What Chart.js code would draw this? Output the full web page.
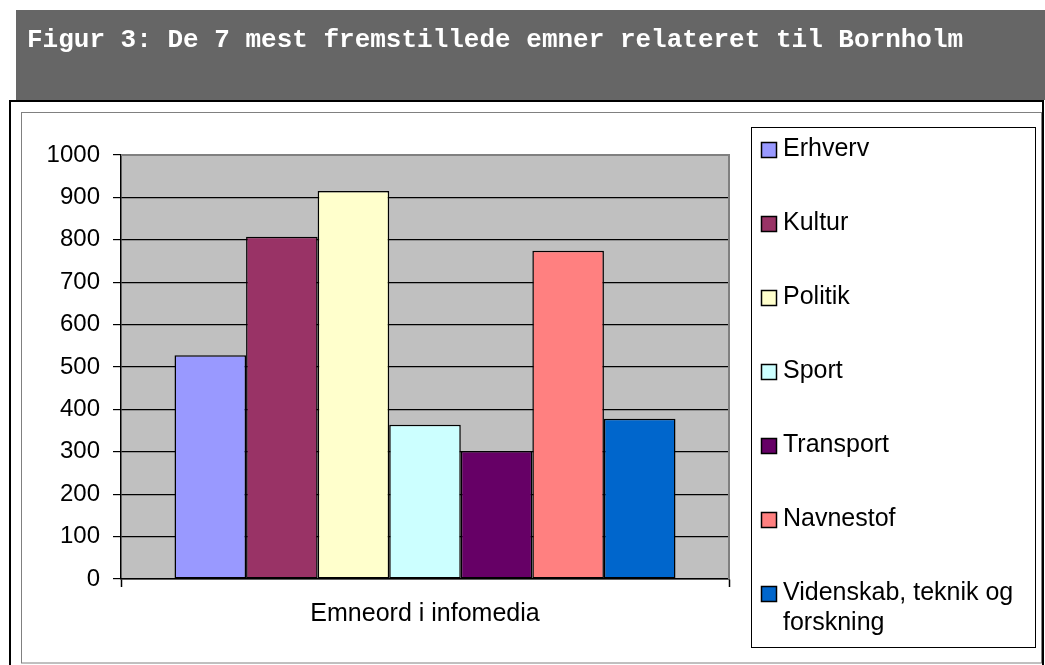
<!DOCTYPE html>
<html>
<head>
<meta charset="utf-8">
<script src="https://cdn.jsdelivr.net/npm/chart.js@4/dist/chart.umd.min.js"></script>
<style>
  html, body { margin: 0; padding: 0; background: #fff; }
  #wrap { width: 1045px; height: 665px; position: relative; }
</style>
</head>
<body>
<div id="wrap"><canvas id="chart" width="1045" height="665"></canvas></div>
<script>
// Data
const figureTitle = 'Figur 3: De 7 mest fremstillede emner relateret til Bornholm';
const categories = ['Emneord i infomedia'];
const seriesNames = ['Erhverv', 'Kultur', 'Politik', 'Sport', 'Transport', 'Navnestof', 'Videnskab, teknik og forskning'];
const legendLines = [['Erhverv'], ['Kultur'], ['Politik'], ['Sport'], ['Transport'], ['Navnestof'], ['Videnskab, teknik og', 'forskning']];
const seriesValues = [528, 807, 915, 364, 302, 774, 378];
const seriesColors = ['#9999FF', '#993366', '#FFFFCC', '#CCFFFF', '#660066', '#FF8080', '#0066CC'];
const yMin = 0, yMax = 1000, yStep = 100;

// Rahmen, Titel und Plotfläche
const framePlugin = {
  id: 'frame',
  beforeDraw(chart) {
    const c = chart.ctx;
    const a = chart.chartArea;
    c.save();
    c.fillStyle = '#ffffff';
    c.fillRect(0, 0, chart.width, chart.height);
    // title bar
    c.fillStyle = '#666666';
    c.fillRect(16, 10, 1029, 90);
    c.fillStyle = '#ffffff';
    c.font = 'bold 26px "Liberation Mono", "Courier New", monospace';
    c.textBaseline = 'alphabetic';
    c.fillText(figureTitle, 27, 47);
    // outer frame
    c.strokeStyle = '#000000';
    c.lineWidth = 2;
    c.strokeRect(10, 101, 1033, 600);
    // inner chart border
    c.strokeStyle = '#808080';
    c.lineWidth = 1;
    c.strokeRect(21.5, 112.5, 1020, 550.5);
    // plot background
    c.fillStyle = '#C0C0C0';
    c.fillRect(a.left, a.top, a.right - a.left, a.bottom - a.top);
    c.restore();
  },
  beforeDatasetsDraw(chart) {
    const c = chart.ctx;
    const a = chart.chartArea;
    c.save();
    c.strokeStyle = '#808080';
    c.lineWidth = 2;
    c.beginPath();
    c.moveTo(a.left, a.top);
    c.lineTo(a.right, a.top);
    c.lineTo(a.right, a.bottom);
    c.stroke();
    c.restore();
  },
  afterDraw(chart) {
    const c = chart.ctx;
    c.save();
    // legend box
    c.fillStyle = '#ffffff';
    c.strokeStyle = '#000000';
    c.lineWidth = 1;
    c.fillRect(751, 127, 284, 520);
    c.strokeRect(751.5, 127.5, 284, 520);
    c.font = '25px "Liberation Sans", Arial, sans-serif';
    c.textBaseline = 'alphabetic';
    chart.data.datasets.forEach((ds, i) => {
      const y = 142 + i * 74;
      c.fillStyle = ds.backgroundColor;
      c.fillRect(761, y, 16, 16);
      c.strokeStyle = '#000000';
      c.lineWidth = 1.5;
      c.strokeRect(761.5, y + 0.5, 15, 15);
      c.fillStyle = '#000000';
      legendLines[i].forEach((line, j) => {
        c.fillText(line, 783, y + 14 + j * 30);
      });
    });
    c.restore();
  }
};

const ctx = document.getElementById('chart').getContext('2d');
new Chart(ctx, {
  type: 'bar',
  data: {
    labels: categories,
    datasets: seriesNames.map((name, i) => ({
      label: name,
      data: [seriesValues[i]],
      backgroundColor: seriesColors[i],
      borderColor: '#000000',
      borderWidth: 1.5,
      borderSkipped: false,
      categoryPercentage: 0.824,
      barPercentage: 1.0
    }))
  },
  options: {
    responsive: false,
    animation: false,
    layout: {
      padding: { left: 11, top: 155, right: 316, bottom: 26 }
    },
    plugins: {
      legend: { display: false },
      tooltip: { enabled: false }
    },
    scales: {
      x: {
        afterFit: s => { s.height = 60; },
        border: { color: '#000000', width: 1.5 },
        grid: {
          offset: true,
          drawOnChartArea: false,
          tickLength: 8,
          tickColor: '#000000',
          tickWidth: 1.5
        },
        ticks: {
          padding: 12,
          color: '#000000',
          font: { family: '"Liberation Sans", Arial, sans-serif', size: 25 }
        }
      },
      y: {
        min: yMin,
        max: yMax,
        afterFit: s => { s.width = 110; },
        border: { color: '#000000', width: 1.5 },
        grid: {
          color: c => (c.tick && c.tick.value === yMax ? 'rgba(0,0,0,0)' : '#000000'),
          lineWidth: 1.2,
          tickLength: 8,
          tickColor: '#000000',
          tickWidth: 1.2
        },
        ticks: {
          stepSize: yStep,
          padding: 13,
          color: '#000000',
          callback: v => String(v),
          font: { family: '"Liberation Sans", Arial, sans-serif', size: 24 }
        }
      }
    }
  },
  plugins: [framePlugin]
});
</script>
</body>
</html>
